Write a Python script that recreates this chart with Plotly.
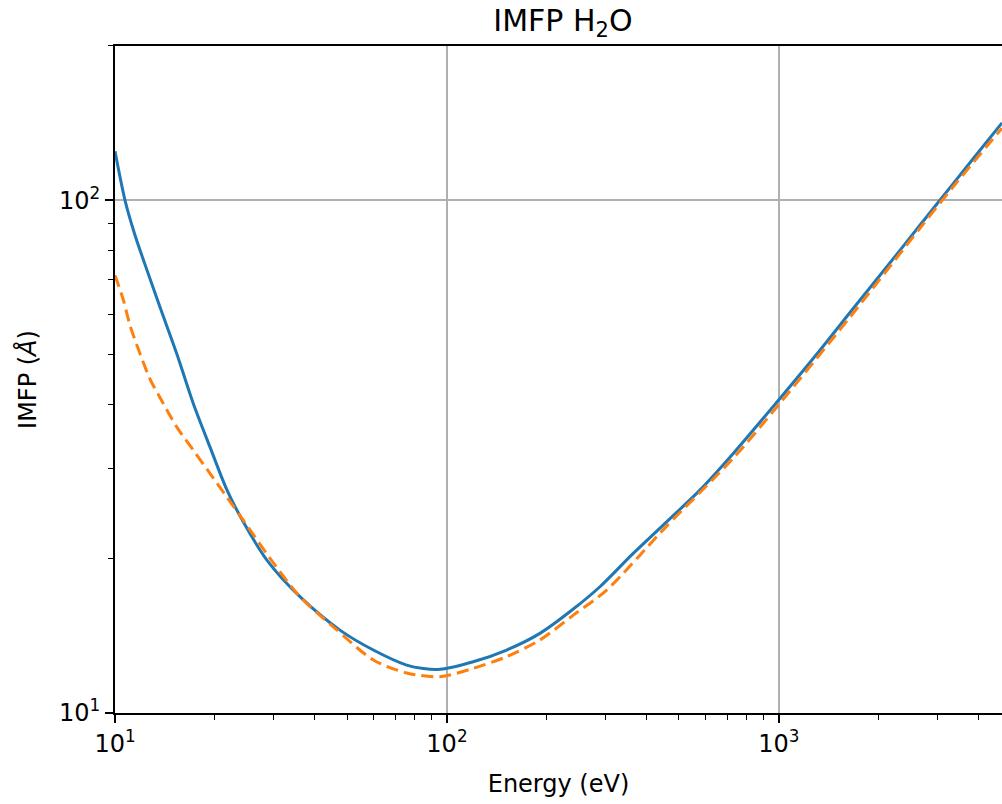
import plotly.graph_objects as go

# Blue (solid) series
energy_a = [10, 10.72, 11.49, 12.31, 13.66, 15.34, 17.21, 19.32, 21.70, 24.34, 28.64, 36.07,
            47.6, 60.0, 75.6, 84.9, 95.3, 120.0, 151.3, 190.6, 240.2, 288.9, 364.0, 458.9, 578.1, 728.5,
            1007, 1329, 1674, 2111, 2659, 3350, 4633, 4700]
imfp_a = [124.6, 100.0, 85.5, 75.0, 61.9, 50.25, 40.15, 33.04, 27.3, 23.6, 19.9, 16.86,
          14.51, 13.27, 12.40, 12.21, 12.17, 12.59, 13.27, 14.30, 15.95, 17.63, 20.48, 23.60, 27.21, 32.08,
          41.07, 51.0, 61.5, 74.1, 89.4, 107.8, 140.0, 141.6]

# Orange (dashed) series
energy_b = [10, 10.59, 11.10, 11.89, 12.75, 13.98, 15.34, 17.21, 19.32, 21.70, 24.34, 29.31, 36.07,
            45.45, 60.0, 75.6, 95.3, 120.0, 151.3, 190.6, 240.2, 302.7, 458.9, 728.5, 1007, 1636,
            2659, 3350, 4696]
imfp_b = [71.4, 64.0, 57.0, 50.25, 44.8, 40.15, 36.15, 32.56, 29.34, 26.40, 23.78, 20.03, 16.86,
          14.73, 12.69, 11.97, 11.77, 12.22, 12.88, 13.88, 15.52, 17.37, 23.15, 31.41, 40.2, 59.15,
          88.2, 106.3, 138.2]

x_tickvals = [10, 100, 1000]
x_ticktext = ["10<sup>1</sup>", "10<sup>2</sup>", "10<sup>3</sup>"]
y_tickvals = [10, 100]
y_ticktext = ["10<sup>1</sup>", "10<sup>2</sup>"]

FONT = "DejaVu Sans"
LBL = 24

fig = go.Figure()
fig.add_trace(go.Scatter(x=energy_a, y=imfp_a, mode="lines",
                         line=dict(color="#1f77b4", width=3.0, shape="spline", smoothing=0.8),
                         showlegend=False))
fig.add_trace(go.Scatter(x=energy_b, y=imfp_b, mode="lines",
                         line=dict(color="#ff7f0e", width=3.0, dash="12px,6px", shape="spline", smoothing=0.8),
                         showlegend=False))

fig.update_layout(
    width=1002, height=804,
    margin=dict(l=115, r=0, t=46, b=91),
    paper_bgcolor="white", plot_bgcolor="white",
    font=dict(family=FONT, size=LBL, color="black"),
    title=dict(text="IMFP H<sub>2</sub>O", x=0.505, xanchor="center", xref="paper",
               y=1 - 20 / 804, yanchor="middle", yref="container",
               font=dict(family=FONT, size=30, color="black")),
)

fig.update_xaxes(
    type="log", range=[1, 3.672],
    tickvals=x_tickvals, ticktext=x_ticktext,
    ticks="outside", ticklen=8, tickwidth=1.8, tickcolor="black",
    showline=True, linecolor="black", linewidth=1.9, mirror=True,
    showgrid=True, gridcolor="#b0b0b0", gridwidth=1.8,
    zeroline=False,
    minor=dict(ticks="outside", ticklen=5, tickwidth=1.4, tickcolor="black", showgrid=False, dtick="D1"),
    title=dict(text="Energy (eV)", font=dict(family=FONT, size=LBL), standoff=18),
    tickfont=dict(family=FONT, size=LBL),
)
fig.update_yaxes(
    type="log", range=[1, 2.301],
    tickvals=y_tickvals, ticktext=y_ticktext,
    ticks="outside", ticklen=8, tickwidth=1.8, tickcolor="black",
    showline=True, linecolor="black", linewidth=1.9, mirror=False,
    showgrid=True, gridcolor="#b0b0b0", gridwidth=1.8,
    zeroline=False,
    minor=dict(ticks="outside", ticklen=5, tickwidth=1.4, tickcolor="black", showgrid=False, dtick="D1"),
    title=dict(text="IMFP (<i>Å</i>)", font=dict(family=FONT, size=LBL), standoff=16),
    tickfont=dict(family=FONT, size=LBL),
)

fig.write_html("out.html",
               config={"displayModeBar": False},
               post_script="document.body.style.margin='0';document.body.style.overflow='hidden';")
